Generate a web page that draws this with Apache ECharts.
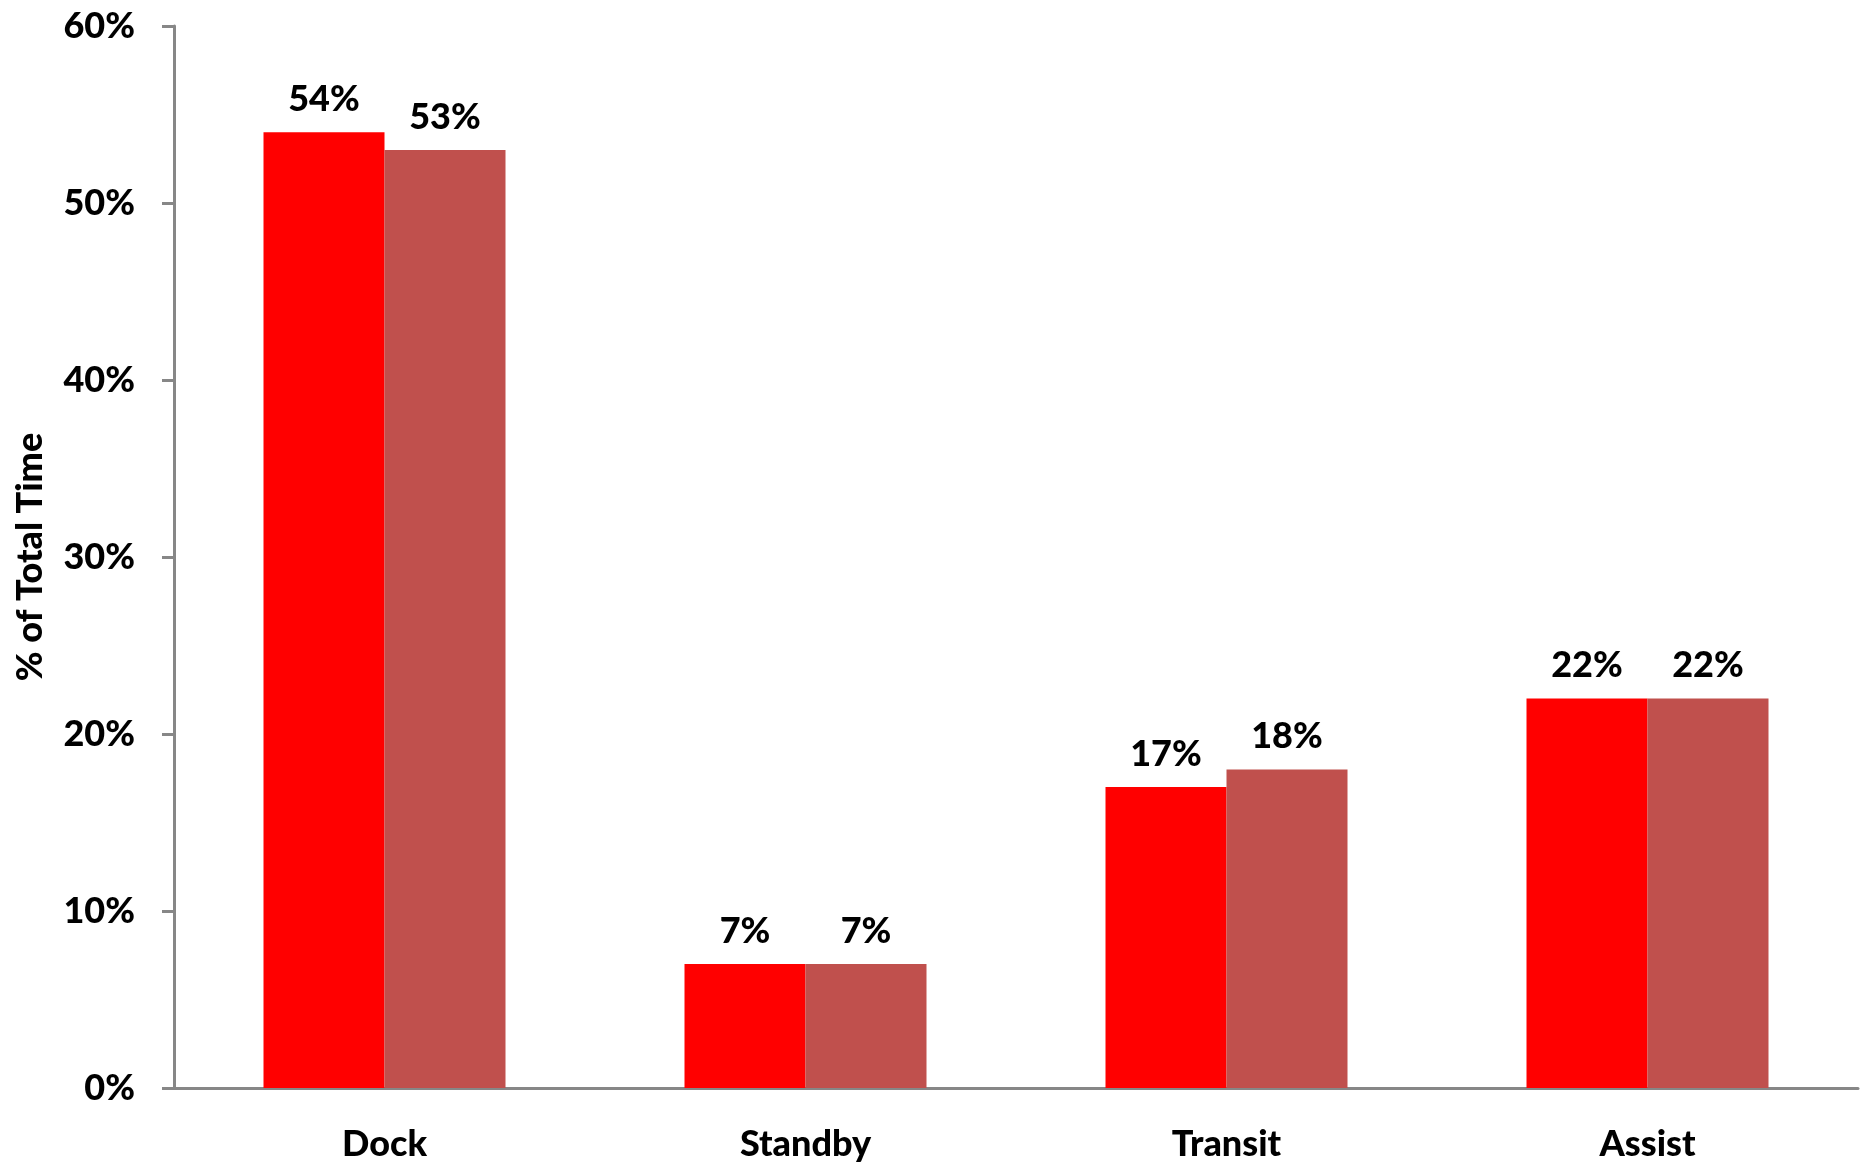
<!DOCTYPE html>
<html>
<head>
<meta charset="utf-8">
<script src="https://cdn.jsdelivr.net/npm/echarts@6/dist/echarts.min.js"></script>
<style>
  html, body { margin: 0; padding: 0; background: #ffffff; }
  #chart { width: 1868px; height: 1164px; }
</style>
</head>
<body>
<div id="chart"></div>
<script>
// Share of total time spent in each activity, two periods side by side
const categories = ['Dock', 'Standby', 'Transit', 'Assist'];
const seriesA = [54, 7, 17, 22];
const seriesB = [53, 7, 18, 22];
const yTicks = { min: 0, max: 60, interval: 10 };

const FONT = 'Lato';
const WEIGHT = 900;
const axisGray = '#878787';

const labelStyle = {
  show: true,
  position: 'top',
  distance: 15,
  formatter: p => p.value + '%',
  fontFamily: FONT,
  fontWeight: WEIGHT,
  fontSize: 36,
  color: '#000000'
};

const chart = echarts.init(document.getElementById('chart'), null, { renderer: 'canvas' });
chart.setOption({
  animation: false,
  backgroundColor: '#ffffff',
  grid: { left: 174, right: 10, top: 26, bottom: 76, containLabel: false },
  xAxis: {
    type: 'category',
    data: categories,
    axisLine: { show: true, lineStyle: { color: axisGray, width: 3 } },
    axisTick: { show: false },
    axisLabel: {
      margin: 38,
      fontFamily: FONT,
      fontWeight: WEIGHT,
      fontSize: 36,
      color: '#000000'
    },
    splitLine: { show: false }
  },
  yAxis: {
    type: 'value',
    min: yTicks.min,
    max: yTicks.max,
    interval: yTicks.interval,
    name: '% of Total Time',
    nameLocation: 'middle',
    nameGap: 126,
    nameRotate: 90,
    nameTextStyle: {
      fontFamily: FONT,
      fontWeight: WEIGHT,
      fontSize: 36,
      color: '#000000'
    },
    axisLine: { show: true, lineStyle: { color: axisGray, width: 3 } },
    axisTick: { show: true, length: 12, inside: false, lineStyle: { color: axisGray, width: 3 } },
    axisLabel: {
      margin: 39,
      formatter: '{value}%',
      fontFamily: FONT,
      fontWeight: WEIGHT,
      fontSize: 36,
      color: '#000000'
    },
    splitLine: { show: false }
  },
  series: [
    {
      type: 'bar',
      data: seriesA,
      barWidth: 121,
      barGap: '0%',
      itemStyle: { color: '#ff0000' },
      label: labelStyle
    },
    {
      type: 'bar',
      data: seriesB,
      barWidth: 121,
      barGap: '0%',
      itemStyle: { color: '#c0504d' },
      label: labelStyle
    }
  ]
});
</script>
</body>
</html>
